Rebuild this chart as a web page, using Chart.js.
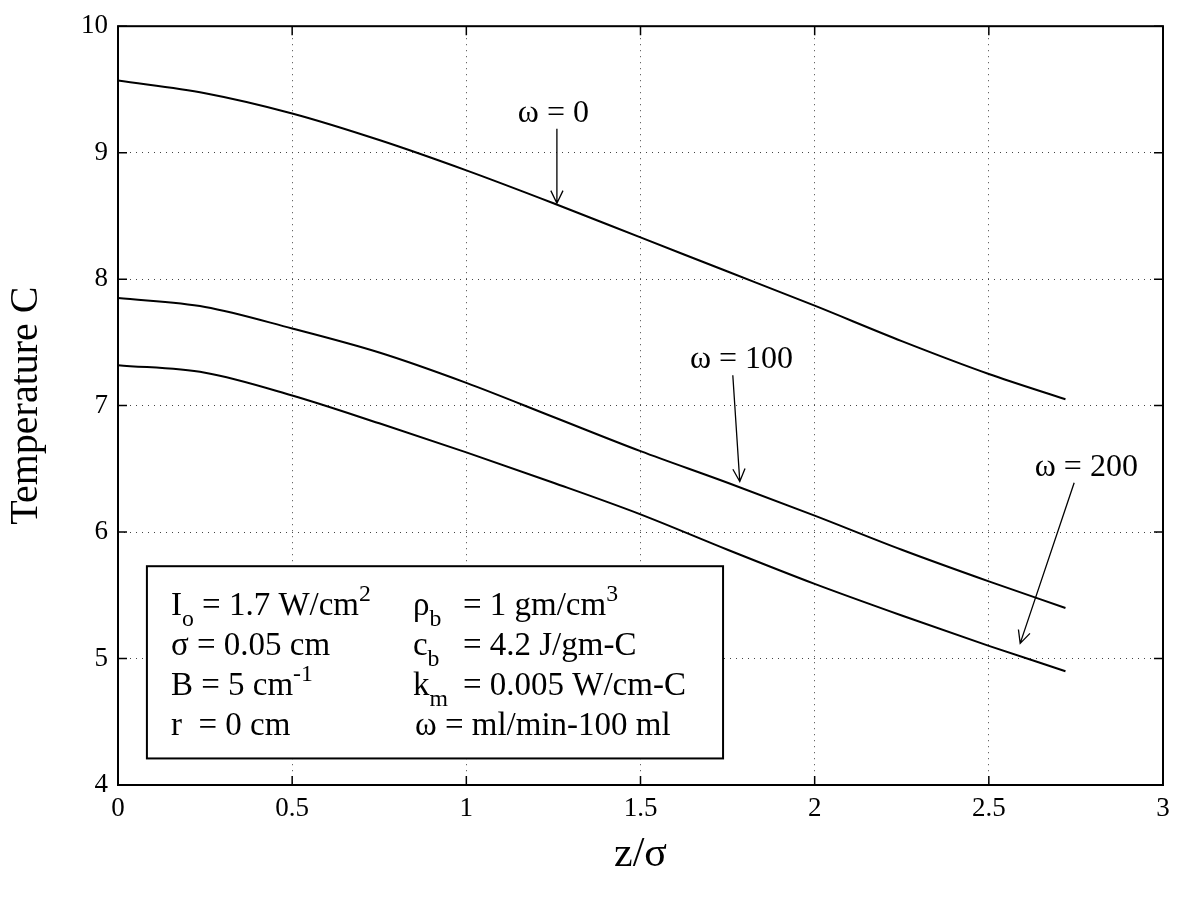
<!DOCTYPE html>
<html>
<head>
<meta charset="utf-8">
<script src="https://cdn.jsdelivr.net/npm/chart.js@4.4.0/dist/chart.umd.min.js"></script>
<style>
  html, body { margin: 0; padding: 0; background: #fff; }
  #wrap { width: 1180px; height: 900px; }
</style>
</head>
<body>
<div id="wrap"><canvas id="myChart" width="1180" height="900"></canvas></div>
<script>
// values
var zs   = [0, 0.25, 0.5, 0.75, 1, 1.25, 1.5, 1.75, 2, 2.25, 2.5, 2.72];
var w0   = [9.57, 9.47, 9.31, 9.10, 8.86, 8.60, 8.33, 8.06, 7.79, 7.51, 7.25, 7.05];
var w100 = [7.85, 7.78, 7.61, 7.42, 7.18, 6.91, 6.64, 6.39, 6.13, 5.86, 5.61, 5.40];
var w200 = [7.32, 7.26, 7.08, 6.86, 6.63, 6.39, 6.14, 5.86, 5.59, 5.34, 5.10, 4.90];

var xTicks = [0, 0.5, 1, 1.5, 2, 2.5, 3];
var yTicks = [4, 5, 6, 7, 8, 9, 10];
var curveNames = ["ω = 0", "ω = 100", "ω = 200"];

// text of the parameter box: [text, "" | "sub" | "sup"]
var boxLeft = [
  [["I", ""], ["o", "sub"], [" = 1.7 W/cm", ""], ["2", "sup"]],
  [["σ = 0.05 cm", ""]],
  [["B = 5 cm", ""], ["-1", "sup"]],
  [["r  = 0 cm", ""]]
];
var boxSym = [
  [["ρ", ""], ["b", "sub"]],
  [["c", ""], ["b", "sub"]],
  [["k", ""], ["m", "sub"]],
  []
];
var boxVal = [
  [["= 1 gm/cm", ""], ["3", "sup"]],
  [["= 4.2 J/gm-C", ""]],
  [["= 0.005 W/cm-C", ""]],
  [["ω = ml/min-100 ml", ""]]
];

// where the labels / arrows sit, in axis units
var labelPos = [[1.25, 9.31], [1.79, 7.36], [2.78, 6.51]];
var arrowFrom = [[1.26, 9.19], [1.765, 7.24], [2.745, 6.39]];
var arrowTo = [[1.26, 8.60], [1.785, 6.40], [2.59, 5.12]];
var boxCorners = [[0.083, 5.73], [1.737, 4.21]];

var SERIF = '"Liberation Serif", "Times New Roman", serif';

function pairs(ys) {
  return zs.map(function(z, i) { return {x: z, y: ys[i]}; });
}

function richText(ctx, parts, x, y, size) {
  parts.forEach(function(p) {
    var fs = p[1] ? size * 0.72 : size;
    var dy = p[1] === "sub" ? size * 0.32 : (p[1] === "sup" ? -size * 0.42 : 0);
    ctx.font = fs + "px " + SERIF;
    ctx.fillText(p[0], x, y + dy);
    x += ctx.measureText(p[0]).width;
  });
}

var extras = {
  id: "extras",
  afterDraw: function(chart) {
    var ctx = chart.ctx, a = chart.chartArea;
    var xs = chart.scales.x, ys = chart.scales.y;
    ctx.save();
    ctx.strokeStyle = "#000";
    ctx.fillStyle = "#000";

    // frame
    ctx.lineWidth = 2;
    ctx.strokeRect(a.left, a.top, a.right - a.left, a.bottom - a.top);

    // inward ticks on all four sides
    ctx.lineWidth = 1.5;
    ctx.beginPath();
    xTicks.forEach(function(v) {
      var px = xs.getPixelForValue(v);
      ctx.moveTo(px, a.bottom); ctx.lineTo(px, a.bottom - 9);
      ctx.moveTo(px, a.top); ctx.lineTo(px, a.top + 9);
    });
    yTicks.forEach(function(v) {
      var py = ys.getPixelForValue(v);
      ctx.moveTo(a.left, py); ctx.lineTo(a.left + 9, py);
      ctx.moveTo(a.right, py); ctx.lineTo(a.right - 9, py);
    });
    ctx.stroke();

    // curve labels with arrows
    ctx.font = "32px " + SERIF;
    ctx.textAlign = "center";
    ctx.textBaseline = "middle";
    ctx.lineWidth = 1.3;
    curveNames.forEach(function(name, i) {
      ctx.fillText(name, xs.getPixelForValue(labelPos[i][0]), ys.getPixelForValue(labelPos[i][1]));
      var x1 = xs.getPixelForValue(arrowFrom[i][0]), y1 = ys.getPixelForValue(arrowFrom[i][1]);
      var x2 = xs.getPixelForValue(arrowTo[i][0]), y2 = ys.getPixelForValue(arrowTo[i][1]);
      var ang = Math.atan2(y2 - y1, x2 - x1), h = 14;
      ctx.beginPath();
      ctx.moveTo(x1, y1); ctx.lineTo(x2, y2);
      ctx.moveTo(x2 - h * Math.cos(ang - 0.45), y2 - h * Math.sin(ang - 0.45));
      ctx.lineTo(x2, y2);
      ctx.lineTo(x2 - h * Math.cos(ang + 0.45), y2 - h * Math.sin(ang + 0.45));
      ctx.stroke();
    });

    // parameter box
    var bx1 = xs.getPixelForValue(boxCorners[0][0]), by1 = ys.getPixelForValue(boxCorners[0][1]);
    var bx2 = xs.getPixelForValue(boxCorners[1][0]), by2 = ys.getPixelForValue(boxCorners[1][1]);
    ctx.fillStyle = "#fff";
    ctx.fillRect(bx1, by1, bx2 - bx1, by2 - by1);
    ctx.lineWidth = 2;
    ctx.strokeRect(bx1, by1, bx2 - bx1, by2 - by1);
    ctx.fillStyle = "#000";
    ctx.textAlign = "left";
    ctx.textBaseline = "alphabetic";
    for (var r = 0; r < 4; r++) {
      var base = by1 + 49 + r * 40;
      richText(ctx, boxLeft[r], bx1 + 24, base, 33);
      richText(ctx, boxSym[r], bx1 + 266, base, 33);
      richText(ctx, boxVal[r], bx1 + (r === 3 ? 268 : 316), base, 33);
    }
    ctx.restore();
  }
};

function charting() {
  var ctx = document.getElementById("myChart");
  var line = function(ys) {
    return {
      data: pairs(ys),
      borderColor: "#000",
      borderWidth: 2,
      pointRadius: 0,
      fill: false,
      cubicInterpolationMode: "monotone"
    };
  };
  new Chart(ctx, {
    type: "line",
    data: { datasets: [line(w0), line(w100), line(w200)] },
    plugins: [extras],
    options: {
      responsive: false,
      animation: false,
      devicePixelRatio: 1,
      layout: { padding: { left: 0, top: 22, right: 17, bottom: 0 } },
      plugins: { legend: { display: false }, tooltip: { enabled: false } },
      scales: {
        x: {
          type: "linear", min: 0, max: 3,
          afterBuildTicks: function(s) { s.ticks = xTicks.map(function(v) { return {value: v}; }); },
          afterFit: function(s) { s.height = 115; },
          grid: { color: "#444", lineWidth: 1, drawTicks: false },
          border: { display: false, dash: [1, 5] },
          ticks: {
            color: "#000", padding: 8, maxRotation: 0,
            font: { family: SERIF, size: 27 },
            callback: function(v) { return String(v); }
          },
          title: {
            display: true, text: "z/σ", color: "#000",
            font: { family: SERIF, size: 42 },
            padding: { top: 20, bottom: 20 }
          }
        },
        y: {
          type: "linear", min: 4, max: 10,
          afterBuildTicks: function(s) { s.ticks = yTicks.map(function(v) { return {value: v}; }); },
          afterFit: function(s) { s.width = 118; },
          grid: { color: "#444", lineWidth: 1, drawTicks: false },
          border: { display: false, dash: [1, 5] },
          ticks: {
            color: "#000", padding: 10,
            font: { family: SERIF, size: 27 },
            callback: function(v) { return String(v); }
          },
          title: {
            display: true, text: "Temperature C", color: "#000",
            font: { family: SERIF, size: 40 },
            padding: { top: 2, bottom: 2 }
          }
        }
      }
    }
  });
}

charting();
</script>
</body>
</html>
